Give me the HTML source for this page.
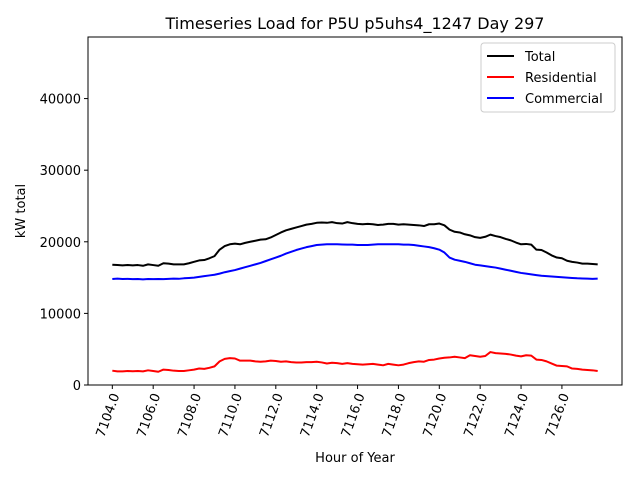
<!DOCTYPE html>
<html><head><meta charset="utf-8"><style>
body{margin:0;background:#fff;font-family:"Liberation Sans","DejaVu Sans",sans-serif;}
svg text{font-family:"DejaVu Sans","Liberation Sans",sans-serif;}
</style></head><body>
<svg id="chart" width="640" height="480" viewBox="0 0 640 480" xmlns="http://www.w3.org/2000/svg">
<rect width="640" height="480" fill="#fff"/>
<text x="355" y="29" font-size="16" text-anchor="middle">Timeseries Load for P5U p5uhs4_1247  Day 297</text>
<g id="plot"></g>
<text x="355" y="462" font-size="13" text-anchor="middle">Hour of Year</text>
<text x="25" y="211" font-size="13" text-anchor="middle" transform="rotate(-90 25 211)">kW total</text>
</svg>
<script>
const startHour = 7104;
const stepHours = 0.25;
const xTicks = [7104,7106,7108,7110,7112,7114,7116,7118,7120,7122,7124,7126];
const xTickLabels = ["7104.0","7106.0","7108.0","7110.0","7112.0","7114.0","7116.0","7118.0","7120.0","7122.0","7124.0","7126.0"];
const yTicks = [0,10000,20000,30000,40000];
const yTickLabels = ["0","10000","20000","30000","40000"];
const seriesNames = ["Total","Residential","Commercial"];
const totalLoad = [16800,16750,16700,16750,16700,16750,16650,16850,16750,16650,17000,16950,16850,16850,16850,17000,
17200,17400,17450,17700,18000,18900,19400,19650,19750,19650,19850,20000,20150,20300,20350,20600,
20950,21300,21600,21800,22000,22200,22400,22500,22650,22700,22650,22750,22600,22550,22750,22600,
22500,22450,22500,22450,22350,22400,22500,22500,22400,22450,22400,22350,22300,22200,22450,22450,
22550,22300,21700,21400,21300,21050,20900,20650,20550,20700,21000,20800,20650,20400,20200,19900,
19650,19700,19600,18900,18850,18500,18100,17800,17700,17350,17200,17100,16950,16950,16900,16850];
const residentialLoad = [2000,1900,1900,1950,1920,1950,1900,2050,1950,1850,2150,2100,2000,1950,1950,2050,
2150,2300,2250,2400,2600,3300,3650,3750,3700,3400,3400,3400,3300,3250,3300,3400,
3350,3250,3300,3200,3150,3150,3200,3200,3250,3150,3000,3100,3050,2950,3050,2950,
2900,2850,2900,2950,2850,2750,2950,2850,2750,2850,3050,3200,3300,3250,3500,3550,
3700,3800,3850,3950,3850,3750,4150,4050,3950,4050,4600,4450,4400,4350,4250,4100,
4000,4150,4100,3550,3500,3300,3000,2700,2650,2600,2300,2250,2150,2100,2050,1950];
const commercialLoad = [14800,14850,14800,14820,14780,14800,14750,14800,14780,14800,14780,14820,14850,14830,14900,14950,
15000,15100,15200,15300,15400,15550,15750,15900,16050,16250,16450,16650,16850,17050,17300,17550,
17800,18050,18350,18600,18850,19050,19250,19400,19550,19600,19650,19650,19650,19620,19600,19600,
19550,19550,19550,19600,19650,19650,19650,19650,19650,19600,19600,19550,19450,19350,19250,19100,
18900,18500,17800,17500,17350,17200,17000,16800,16700,16600,16500,16400,16250,16100,15950,15800,
15650,15550,15450,15350,15250,15200,15150,15100,15050,15000,14950,14900,14880,14850,14820,14850];

const NS="http://www.w3.org/2000/svg";
const L=88,R=622,T=37,B=385;
const xMin=7102.81,xMax=7128.94,yMin=0,yMax=48600;
const xs=v=>L+(v-xMin)/(xMax-xMin)*(R-L);
const ys=v=>B-(v-yMin)/(yMax-yMin)*(B-T);
const g=document.getElementById('plot');
function mk(tag,attrs){const e=document.createElementNS(NS,tag);for(const k in attrs)e.setAttribute(k,attrs[k]);g.appendChild(e);return e;}

const seriesData=[totalLoad,residentialLoad,commercialLoad];
const colors=["#000000","#ff0000","#0000ff"];
const slugs=["total","residential","commercial"];
seriesData.forEach((arr,si)=>{
  const pts=arr.map((v,i)=>xs(startHour+i*stepHours).toFixed(2)+","+ys(v).toFixed(2)).join(" ");
  const p=mk('polyline',{points:pts,fill:"none",stroke:colors[si],"stroke-width":2,"stroke-linejoin":"round"});
  
  
});

const frame=mk('rect',{x:L,y:T,width:R-L,height:B-T,fill:"none",stroke:"#000","stroke-width":1});



xTicks.forEach((t,i)=>{
  const x=xs(t);
  const tk=mk('line',{x1:x,y1:B,x2:x,y2:B+4,stroke:"#000"});
  
  
  const tx=mk('text',{x:x+4,y:B+9,"font-size":13,"text-anchor":"end",transform:`rotate(-70 ${x+4} ${B+9})`,"dominant-baseline":"middle"});
  tx.textContent=xTickLabels[i];
  
  
});
yTicks.forEach((t,i)=>{
  const y=ys(t);
  const tk=mk('line',{x1:L-4,y1:y,x2:L,y2:y,stroke:"#000"});
  
  
  const tx=mk('text',{x:L-7,y:y+5,"font-size":13,"text-anchor":"end"});
  tx.textContent=yTickLabels[i];
  
  
});

const lg=mk('rect',{x:481,y:43,width:134,height:69,rx:3,fill:"#fff",stroke:"#ccc"});


seriesNames.forEach((n,i)=>{
  const y=56+i*21;
  const ln=mk('line',{x1:487,y1:y,x2:514,y2:y,stroke:colors[i],"stroke-width":2});
  
  
  const tx=mk('text',{x:525,y:y+5,"font-size":13});
  tx.textContent=n;
  
  
});
</script>
</body></html>
